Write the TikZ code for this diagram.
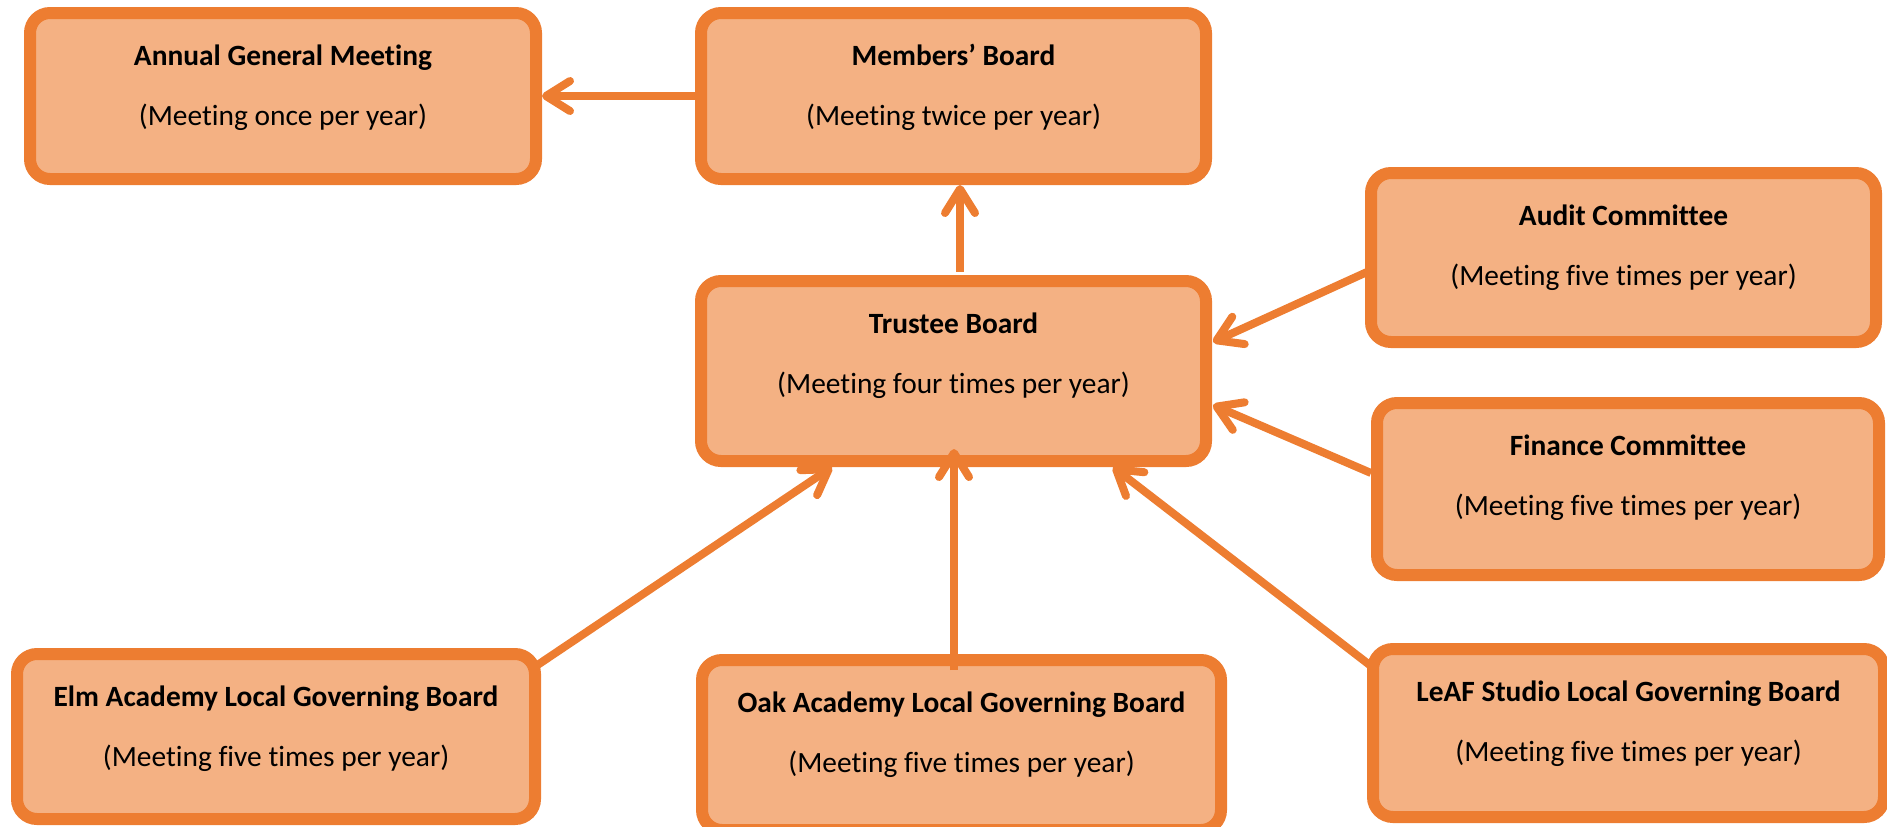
\documentclass[tikz,border=0pt]{standalone}
\usepackage{fontspec}
\setmainfont[Ligatures={TeX,NoCommon}]{Carlito}
\usetikzlibrary{arrows.meta,calc}
\definecolor{borange}{HTML}{ED7D31}
\definecolor{bfill}{HTML}{F4B183}
\newcommand{\bxt}[2]{\begin{tabular}[t]{@{}c@{}}\textbf{#1}\\[12pt]#2\end{tabular}}
\begin{document}
\begin{tikzpicture}[x=0.5pt,y=-0.5pt,
  box/.style={draw=borange, fill=bfill, line width=6pt, rounded corners=10pt,
    inner sep=0pt, outer sep=0pt, text height=26.3pt, font=\fontsize{14.7}{18}\selectfont},
  arr/.style={draw=borange, line width=4pt,
    -{Straight Barb[length=12pt,width=15pt,round]}}]
\useasboundingbox (0,0) rectangle (1887,826);
% boxes
\node[box, minimum width=253pt, minimum height=83pt, text depth=56.7pt] (agm) at (283,96)
  {\bxt{Annual General Meeting}{(Meeting once per year)}};
\node[box, minimum width=252.5pt, minimum height=83pt, text depth=56.7pt] (mb) at (953.5,96)
  {\bxt{Members’ Board}{(Meeting twice per year)}};
\node[box, minimum width=252.5pt, minimum height=90pt, text depth=63.7pt] (tb) at (953.5,371)
  {\bxt{Trustee Board}{(Meeting four times per year)}};
\node[box, minimum width=252.5pt, minimum height=84.5pt, text depth=58.2pt] (ac) at (1623.5,257.5)
  {\bxt{Audit Committee}{(Meeting five times per year)}};
\node[box, minimum width=251pt, minimum height=86pt, text depth=59.7pt] (fc) at (1628,489)
  {\bxt{Finance Committee}{(Meeting five times per year)}};
\node[box, minimum width=259pt, minimum height=82.5pt, text depth=56.2pt] (elm) at (276,736.5)
  {\bxt{Elm Academy Local Governing Board}{(Meeting five times per year)}};
\node[box, minimum width=259.5pt, minimum height=85pt, text depth=58.7pt] (oak) at (961.5,745)
  {\bxt{Oak Academy Local Governing Board}{(Meeting five times per year)}};
\node[box, minimum width=255.5pt, minimum height=84pt, text depth=57.7pt] (leaf) at (1628.5,733)
  {\bxt{LeAF Studio Local Governing Board}{(Meeting five times per year)}};
% connectors
\draw[arr] ($(mb.west)+(-6,0)$) -- ($(agm.east)+(6,0)$);
\draw[arr] ($(tb.north)+(6.5,-9)$) -- ($(mb.south)+(6.5,6)$);
\draw[arr] ($(ac.west)+(-4,14.5)$) -- ($(tb.east)+(7,-29)$);
\draw[arr] ($(fc.west)+(-6,-16)$) -- ($(tb.east)+(7,34)$);
\draw[arr] ($(elm.north east)+(1,12)$) -- ($(tb.south)+(-121.5,6)$);
\draw[arr] ($(oak.north)+(-7.5,10)$) -- ($(tb.south)+(0.5,-12)$);
\draw[arr] ($(leaf.north west)+(-2,17)$) -- ($(tb.south)+(159.5,6)$);
\end{tikzpicture}
\end{document}
